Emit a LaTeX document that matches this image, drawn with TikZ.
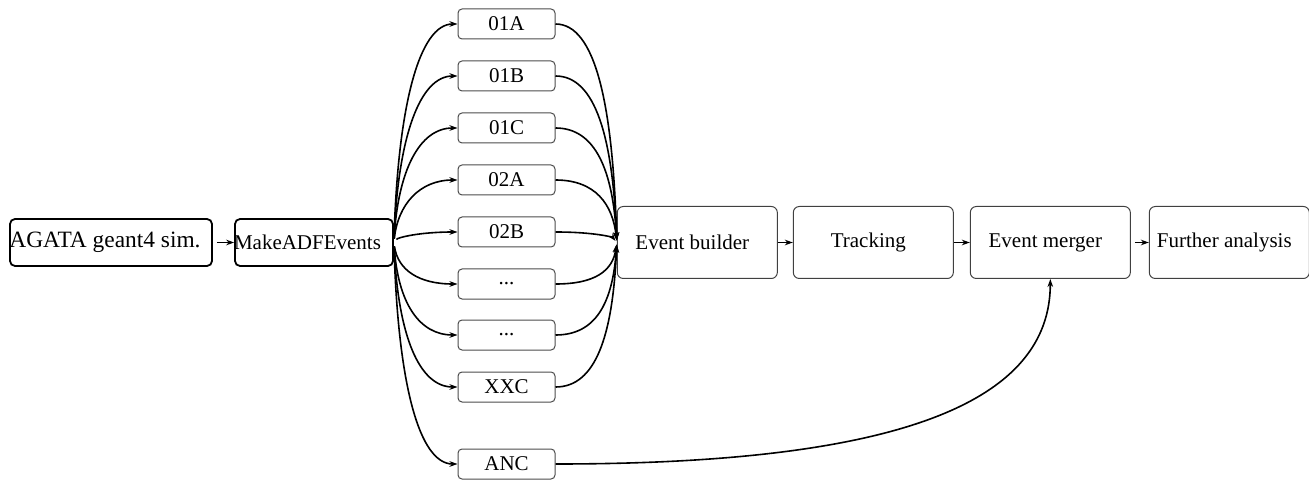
\documentclass[tikz,border=0pt]{standalone}
\usepackage{fontspec}
\setmainfont{Liberation Serif}
\usetikzlibrary{positioning,arrows.meta}
\newcommand{\skipped}{...}

\begin{document}
\begin{tikzpicture}[x=0.5pt,y=-0.5pt,>={Stealth[length=4pt,width=2.8pt]},line width=0.8pt,node distance=7.5pt,
  font=\fontsize{10.5}{12.6}\selectfont,
  input node/.style={rectangle,rounded corners=2.5pt,draw,line width=0.9pt,minimum height=23.5pt,inner sep=0pt},
  crystal/.style={rectangle,rounded corners=2pt,draw=black!70,line width=0.5pt,minimum width=48.5pt,minimum height=15pt,inner sep=0pt},
  stage/.style={rectangle,rounded corners=3pt,draw=black!75,line width=0.5pt,minimum width=80pt,minimum height=36pt,inner sep=0pt,execute at begin node=\kern-5pt}]

\useasboundingbox (0,0) rectangle (1309,480);

\node[input node,minimum width=101pt,font=\fontsize{11.7}{14}\selectfont,execute at begin node=\kern-6pt] (sim) at (111,242.5) {AGATA geant4 sim.};
\node[input node,minimum width=79pt,execute at begin node=\kern-6.5pt] (make) at (314,242.5) {MakeADFEvents};

% crystals
\foreach \name/\txt/\yy in {s01a/01A/24, s01b/01B/76, s01c/01C/128, s02a/02A/180, s02b/02B/232, sd1/\skipped/284, sd2/\skipped/335, sxxc/XXC/387}
  \node[crystal] (\name) at (506.5,\yy) {\txt};
\node[crystal] (anc) at (506.5,464) {ANC};

% chain
\node[stage] (builder) at (697.3,242.5) {Event builder};
\node[stage,right=of builder] (tracking) {Tracking};
\node[stage,right=8pt of tracking] (merger) {Event merger};
\node[stage,right=9pt of merger] (further) {Further analysis};

\draw[->,shorten <=2pt] (sim) -- (make);
\draw[->] (builder) -- (tracking);
\draw[->] (tracking) -- (merger);
\draw[->,shorten <=2pt] (merger) -- (further);

\foreach \name/\dy in {s01a/-138, s01b/-105, s01c/-72, s02a/-38, s02b/-5, sd1/28, sd2/61, sxxc/94} {
  \draw[->,shorten <=2pt] (make.east) .. controls +(4,\dy) and +(-38,0) .. (\name.west);
  \draw[->,shorten >=1pt] (\name.east) .. controls +(40,0) and +(-4,\dy) .. (builder.west);
}
\draw[->,shorten <=2pt] (make.east) .. controls +(4,143) and +(-38,0) .. (anc.west);
\draw[->] (anc.east) .. controls +(350,0) and +(0,121) .. (merger.south);
\end{tikzpicture}
\end{document}
